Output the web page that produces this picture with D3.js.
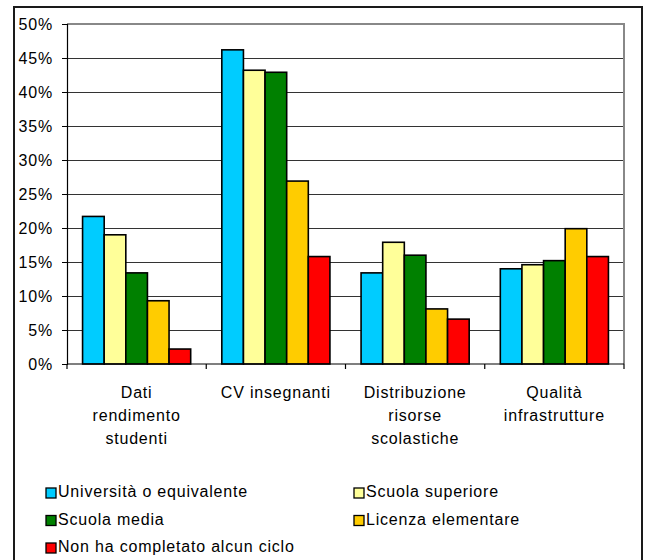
<!DOCTYPE html>
<html>
<head>
<meta charset="utf-8">
<script src="https://cdn.jsdelivr.net/npm/d3@7"></script>
<style>
  html, body { margin: 0; padding: 0; background: #fff; }
  svg { display: block; }
  text { font-family: "Liberation Sans", Arial, sans-serif; font-size: 16px; fill: #000; letter-spacing: 0.8px; }
</style>
</head>
<body>
<svg id="chart" width="646" height="560"></svg>
<script>
// ---- data ----
const categories = [
  ["Dati", "rendimento", "studenti"],
  ["CV insegnanti"],
  ["Distribuzione", "risorse", "scolastiche"],
  ["Qualità", "infrastrutture"]
];
const series = [
  "Università o equivalente",
  "Scuola superiore",
  "Scuola media",
  "Licenza elementare",
  "Non ha completato alcun ciclo"
];
const colors = ["#00CCFF", "#FFFF99", "#008000", "#FFCC00", "#FF0000"];
const uniValues    = [21.7, 46.2, 13.4, 14.0];
const superValues  = [19.0, 43.2, 17.9, 14.6];
const mediaValues  = [13.4, 42.9, 16.0, 15.2];
const elemValues   = [9.3, 26.9, 8.1, 19.9];
const nessunValues = [2.2, 15.8, 6.6, 15.8];
const tickValues = [0, 5, 10, 15, 20, 25, 30, 35, 40, 45, 50];

const values = [uniValues, superValues, mediaValues, elemValues, nessunValues];

// ---- layout ----
const svg = d3.select("#chart");
const plot = { left: 67, right: 624, top: 24, bottom: 364 };

// outer border
svg.append("rect")
  .attr("x", 14).attr("y", 7)
  .attr("width", 628).attr("height", 560)
  .attr("fill", "none").attr("stroke", "#1a1a1a").attr("stroke-width", 2);

const catIdx = categories.map((c, i) => i);
const x0 = d3.scaleBand().domain(catIdx).range([plot.left, plot.right]).paddingInner(0).paddingOuter(0);
const x1 = d3.scaleBand().domain(series).range([0, x0.bandwidth()]).paddingInner(0).paddingOuter(0.72);
const y = d3.scaleLinear().domain([0, 50]).range([plot.bottom, plot.top]);

// gridlines
svg.append("g").selectAll("line")
  .data(tickValues.filter(t => t > 0 && t < 50))
  .join("line")
  .attr("x1", plot.left).attr("x2", plot.right)
  .attr("y1", d => Math.round(y(d)) + 0.5).attr("y2", d => Math.round(y(d)) + 0.5)
  .attr("stroke", "#333").attr("stroke-width", 1);

// plot area border (top & right) gray
svg.append("path")
  .attr("d", `M${plot.left},${plot.top} H${plot.right} V${plot.bottom}`)
  .attr("fill", "none").attr("stroke", "#888").attr("stroke-width", 2);

// bars
const groups = svg.append("g").selectAll("g")
  .data(catIdx)
  .join("g")
  .attr("transform", d => `translate(${x0(d)},0)`);

groups.selectAll("rect")
  .data(ci => series.map((s, si) => ({ s, si, v: values[si][ci] })))
  .join("rect")
  .attr("x", d => x1(d.s))
  .attr("width", x1.bandwidth())
  .attr("y", d => y(d.v))
  .attr("height", d => y(0) - y(d.v))
  .attr("fill", d => colors[d.si])
  .attr("stroke", "#000").attr("stroke-width", 1.6);

// y axis
const yAxis = d3.axisLeft(y).tickValues(tickValues).tickSize(5).tickPadding(9)
  .tickFormat(d => d + "%");
const gy = svg.append("g").attr("transform", `translate(${plot.left},0)`).call(yAxis);
gy.select(".domain").attr("stroke", "#000").attr("stroke-width", 1.2);
gy.selectAll(".tick line").attr("stroke", "#000");
gy.selectAll(".tick text").attr("font-size", null).attr("font-family", null)
  .style("font-size", "16px");

// x axis (ticks at category boundaries)
const boundaries = catIdx.map(i => x0(i)).concat([plot.right]);
svg.append("line")
  .attr("x1", plot.left).attr("x2", plot.right)
  .attr("y1", plot.bottom).attr("y2", plot.bottom)
  .attr("stroke", "#000").attr("stroke-width", 1.2);
svg.append("g").selectAll("line")
  .data(boundaries)
  .join("line")
  .attr("x1", d => d).attr("x2", d => d)
  .attr("y1", plot.bottom).attr("y2", plot.bottom + 5)
  .attr("stroke", "#000").attr("stroke-width", 1.2);

// x labels
const xl = svg.append("g").selectAll("text")
  .data(catIdx)
  .join("text")
  .attr("text-anchor", "middle")
  .attr("x", d => x0(d) + x0.bandwidth() / 2)
  .attr("y", 398);
xl.selectAll("tspan")
  .data(d => categories[d].map((t, k) => ({ t, k, cx: x0(d) + x0.bandwidth() / 2 })))
  .join("tspan")
  .attr("x", d => d.cx)
  .attr("y", d => 398 + d.k * 23)
  .text(d => d.t);

// legend
const legendPos = [
  { x: 46, y: 497 }, { x: 354, y: 497 },
  { x: 46, y: 524.5 }, { x: 354, y: 524.5 },
  { x: 46, y: 552 }
];
const lg = svg.append("g").selectAll("g")
  .data(series)
  .join("g")
  .attr("transform", (d, i) => `translate(${legendPos[i].x},${legendPos[i].y})`);
lg.append("rect")
  .attr("x", 0).attr("y", -9).attr("width", 10).attr("height", 10)
  .attr("fill", (d, i) => colors[i]).attr("stroke", "#000").attr("stroke-width", 1.3);
lg.append("text")
  .attr("x", 12).attr("y", 0)
  .text(d => d);
</script>
</body>
</html>
